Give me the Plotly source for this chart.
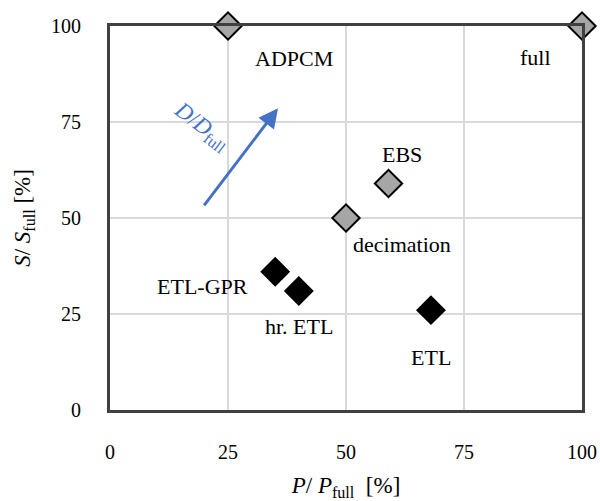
import plotly.graph_objects as go

# data
gray_names = ["ADPCM", "full", "EBS", "decimation"]
gray_x = [25, 100, 59, 50]
gray_y = [100, 100, 59, 50]

black_names = ["ETL-GPR", "hr. ETL", "ETL"]
black_x = [35, 40, 68]
black_y = [36, 31, 26]

ticks = [0, 25, 50, 75, 100]

# label offsets in pixels (dx, dy)
label_offsets = {
    "ADPCM": (66, -32),
    "full": (-47, -31),
    "EBS": (14, 29),
    "decimation": (56, -26),
    "ETL-GPR": (-73, -15),
    "hr. ETL": (0, -36),
    "ETL": (0, -47),
}

FONT = "Liberation Serif, Times New Roman, DejaVu Serif, serif"

fig = go.Figure()
fig.add_trace(go.Scatter(
    x=gray_x, y=gray_y, mode="markers", cliponaxis=False,
    marker=dict(symbol="diamond", size=21, color="#a6a6a6",
                line=dict(color="black", width=2)),
    showlegend=False,
))
fig.add_trace(go.Scatter(
    x=black_x, y=black_y, mode="markers", cliponaxis=False,
    marker=dict(symbol="diamond", size=23, color="black",
                line=dict(color="black", width=0)),
    showlegend=False,
))

annotations = []
for names, xs, ys in [(gray_names, gray_x, gray_y), (black_names, black_x, black_y)]:
    for n, x, y in zip(names, xs, ys):
        dx, dy = label_offsets[n]
        annotations.append(dict(x=x, y=y, text=n, showarrow=False,
                                xshift=dx, yshift=dy,
                                font=dict(family=FONT, size=22, color="black")))

# arrow
annotations.append(dict(x=35.6, y=78.6, ax=19.7, ay=52.9, axref="x", ayref="y",
                        xref="x", yref="y", text="", showarrow=True,
                        arrowhead=2, arrowsize=1.3, arrowwidth=3, arrowcolor="#4472c4"))
annotations.append(dict(x=19.5, y=73.8, text="<i>D</i>/<i>D</i><sub>full</sub>",
                        showarrow=False, textangle=37,
                        font=dict(family=FONT, size=23, color="#4472c4")))

fig.update_layout(
    width=600, height=501,
    margin=dict(l=110, r=18, t=26, b=91, autoexpand=False),
    paper_bgcolor="white", plot_bgcolor="white",
    font=dict(family=FONT, size=20, color="black"),
    annotations=annotations,
)
axis_common = dict(
    range=[0, 100], tickvals=ticks, ticktext=[str(t) for t in ticks],
    showgrid=True, gridcolor="#d9d9d9", gridwidth=2,
    showline=True, linecolor="#404040", linewidth=3, mirror=True,
    zeroline=False, ticks="", tickfont=dict(family=FONT, size=20, color="black"),
    ticklabelstandoff=22, automargin=False,
)
fig.update_xaxes(**axis_common,
                 title=dict(text="<i>P</i>/ <i>P</i><sub>full</sub>  [%]", standoff=18,
                            font=dict(family=FONT, size=23)))
fig.update_yaxes(**axis_common,
                 title=dict(text="<i>S</i>/ <i>S</i><sub>full</sub> [%]", standoff=14,
                            font=dict(family=FONT, size=23)))

fig.write_html("out.html")
